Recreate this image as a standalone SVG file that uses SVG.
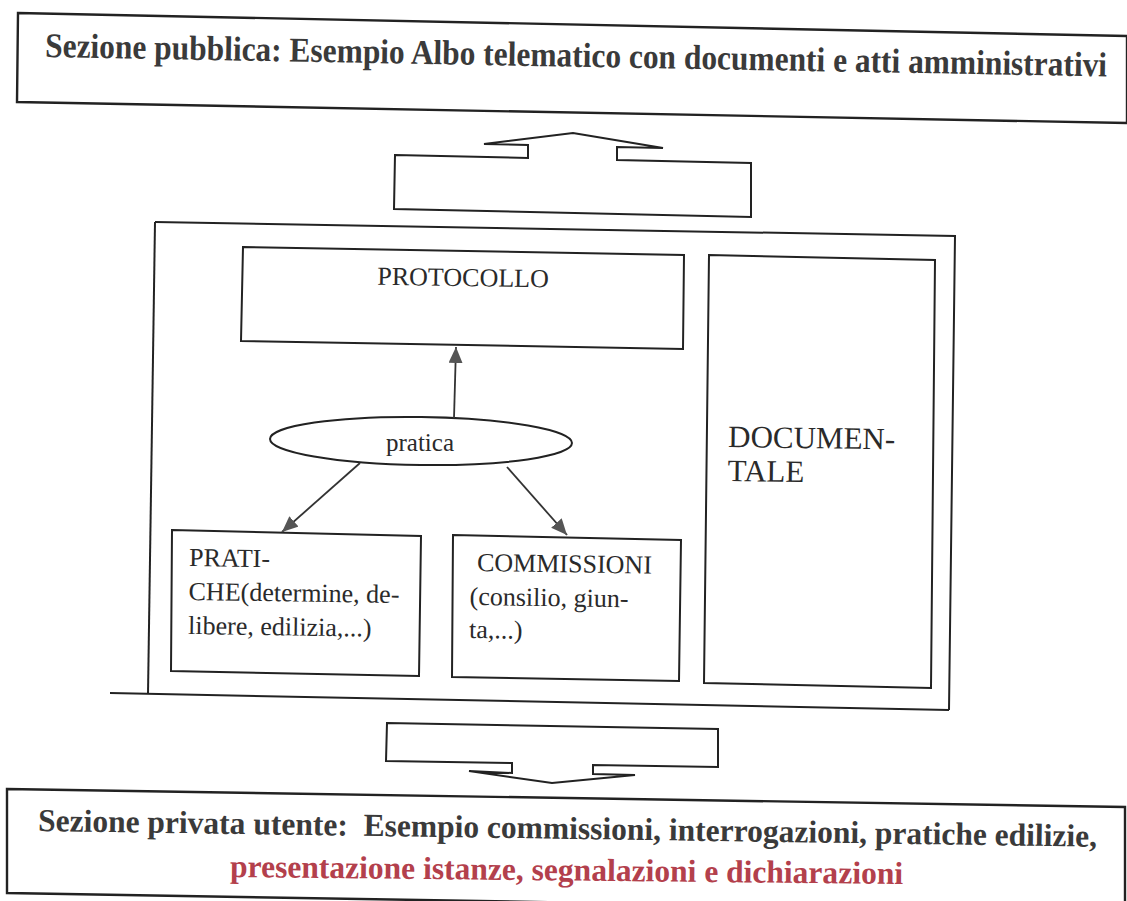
<svg xmlns="http://www.w3.org/2000/svg" width="1127" height="901" viewBox="0 0 1127 901">
<style>
.box{fill:none;stroke:#222;stroke-width:2;stroke-linejoin:miter}
.wbox{fill:#fff;stroke:#222;stroke-width:2}
.frame{fill:none;stroke:#222;stroke-width:2.4}
.conn{fill:none;stroke:#333;stroke-width:1.8}
.t{font-family:"Liberation Serif","Times New Roman",serif;fill:#2a2a2a}
.title{font-family:"Liberation Serif","Times New Roman",serif;font-weight:bold;fill:#3a3a3a;white-space:pre}
.red{fill:#b3404c}
</style>
<defs>
<marker id="ah" markerUnits="userSpaceOnUse" markerWidth="17" markerHeight="15" refX="16" refY="7" orient="auto">
<path d="M0,0 L16,7 L0,14 z" fill="#555"/>
</marker>
</defs>
<rect width="1127" height="901" fill="#fff"/>

<g id="sezione-pubblica">
<polygon class="frame" points="18,13 1127,36 1127,123 17,102"/>
<text class="title" x="0" y="0" font-size="29" textLength="1062" lengthAdjust="spacingAndGlyphs" transform="rotate(1.05 45 57) translate(45 57) scale(1 1.2)">Sezione pubblica: Esempio Albo telematico con documenti e atti amministrativi</text>
</g>

<g id="freccia-su">
<polygon class="box" points="395,155 528,158 528,145 484,144 573,133 663,148 617,147 617,160 751,163 751,217 394,209"/>
</g>

<g id="contenitore">
<polyline class="box" points="155,222 955,236 949,710"/>
<line class="box" x1="155" y1="222" x2="148" y2="694"/>
<line class="box" x1="110" y1="693" x2="949" y2="710"/>
</g>

<g id="protocollo">
<polygon class="box" points="243,247 684,255 683,349 241,341"/>
<text class="t" x="463" y="286" font-size="26" text-anchor="middle" transform="rotate(0.8 463 286)">PROTOCOLLO</text>
</g>

<g id="documentale">
<polygon class="box" points="709,255 935,260 931,688 704,683"/>
<text class="t" font-size="31" transform="rotate(0.8 728 447)"><tspan x="728" y="447">DOCUMEN-</tspan><tspan x="728" y="481">TALE</tspan></text>
</g>

<g id="pratica">
<ellipse class="wbox" cx="421" cy="441" rx="151" ry="24" transform="rotate(0.8 421 441)"/>
<text class="t" x="420" y="451" font-size="25" text-anchor="middle">pratica</text>
</g>

<g id="pratiche">
<polygon class="box" points="172,530 421,536 419,676 171,671"/>
<text class="t" font-size="26" transform="rotate(0.8 189 566)"><tspan x="189" y="566">PRATI-</tspan><tspan x="189" y="600">CHE(determine, de-</tspan><tspan x="189" y="634">libere, edilizia,...)</tspan></text>
</g>

<g id="commissioni">
<polygon class="box" points="453,535 681,540 679,681 452,677"/>
<text class="t" font-size="26" transform="rotate(0.8 470 571)"><tspan x="477" y="571">COMMISSIONI</tspan><tspan x="470" y="605">(consilio, giun-</tspan><tspan x="470" y="638">ta,...)</tspan></text>
</g>

<g id="connettori">
<line class="conn" x1="454" y1="418" x2="456" y2="347" marker-end="url(#ah)"/>
<line class="conn" x1="360" y1="463" x2="282" y2="532" marker-end="url(#ah)"/>
<line class="conn" x1="507" y1="467" x2="567" y2="535" marker-end="url(#ah)"/>
</g>

<g id="freccia-giu">
<polygon class="box" points="387,723 718,729 718,767 593,765 593,774 635,775 552,783 469,771 512,773 512,763 386,761"/>
</g>

<g id="sezione-privata">
<polygon class="frame" points="7,789 1125,807 1125,912 7,893"/>
<text class="title" x="0" y="0" font-size="28" textLength="1059" lengthAdjust="spacingAndGlyphs" transform="rotate(0.85 38 831) translate(38 831) scale(1 1.14)">Sezione privata utente:  Esempio commissioni, interrogazioni, pratiche edilizie,</text>
<text class="title red" x="0" y="0" font-size="28" textLength="673" lengthAdjust="spacingAndGlyphs" transform="rotate(0.6 230 877) translate(230 877) scale(1 1.14)">presentazione istanze, segnalazioni e dichiarazioni</text>
</g>
</svg>
